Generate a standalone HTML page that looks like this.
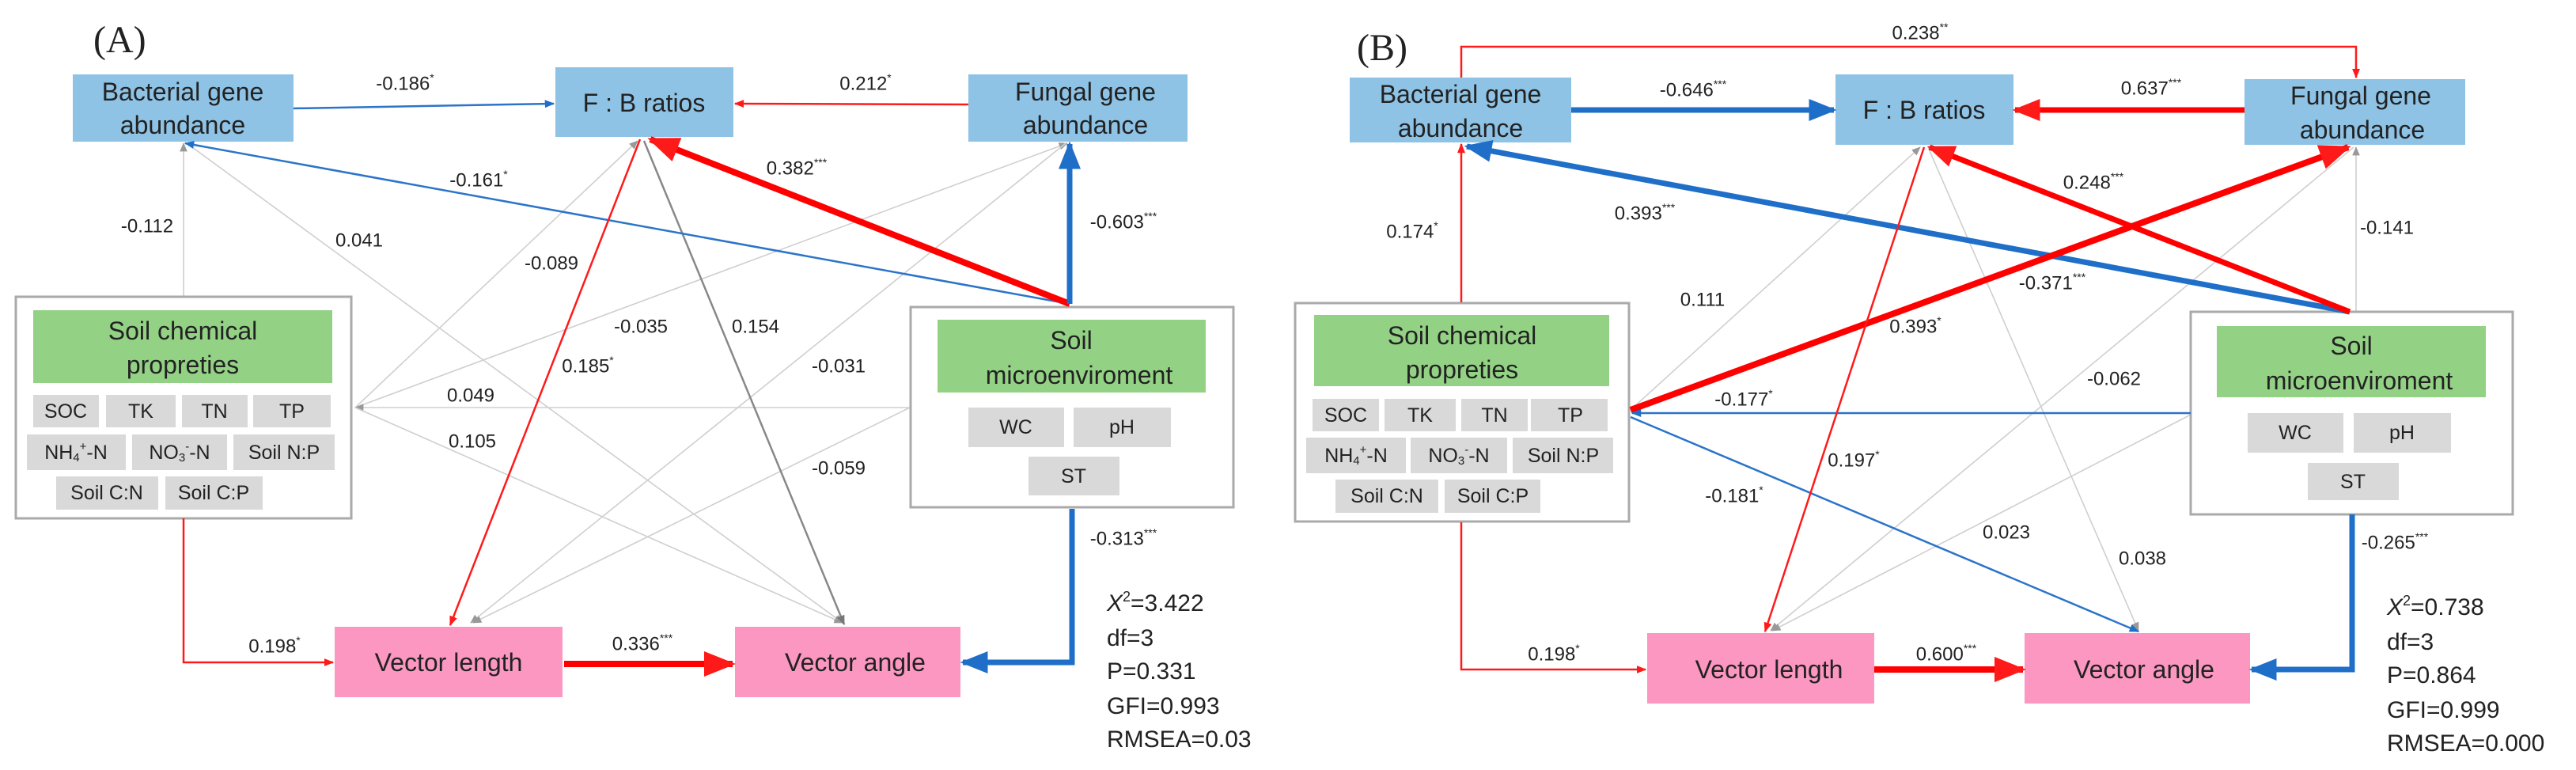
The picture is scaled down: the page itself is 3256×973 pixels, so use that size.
<!DOCTYPE html>
<html><head><meta charset="utf-8"><style>
html,body{margin:0;padding:0;background:#fff;}
svg{display:block;}
text{font-family:"Liberation Sans",sans-serif;fill:#222;}
.lb{font-size:24px;text-anchor:middle;dominant-baseline:central;}
.bx{font-size:32px;text-anchor:middle;dominant-baseline:central;}
.ch{font-size:25px;text-anchor:middle;dominant-baseline:central;}
.st{font-size:30px;}
.pl{font-family:"Liberation Serif",serif;font-size:48px;}
</style></head><body>
<svg width="3256" height="973" viewBox="0 0 3256 973" xmlns="http://www.w3.org/2000/svg">
<defs>
<marker id="ar" markerWidth="5" markerHeight="4" refX="4.5" refY="2" orient="auto" markerUnits="strokeWidth"><path d="M0,0 L5,2 L0,4 Z" fill="#ff1a1a"/></marker>
<marker id="ab" markerWidth="5" markerHeight="4" refX="4.5" refY="2" orient="auto" markerUnits="strokeWidth"><path d="M0,0 L5,2 L0,4 Z" fill="#1f6fc8"/></marker>
<marker id="ag" markerWidth="7" markerHeight="6" refX="6.5" refY="3" orient="auto" markerUnits="strokeWidth"><path d="M0,0 L7,3 L0,6 Z" fill="#999"/></marker>
<marker id="ad" markerWidth="5" markerHeight="4" refX="4.5" refY="2" orient="auto" markerUnits="strokeWidth"><path d="M0,0 L5,2 L0,4 Z" fill="#777"/></marker>
</defs>

<!-- ============ PANEL A ============ -->
<text class="pl" x="118" y="66">(A)</text>

<!-- light gray lines A -->
<g stroke="#cfcfcf" stroke-width="1.6" fill="none" marker-end="url(#ag)">
<line x1="232" y1="374" x2="232" y2="181"/>
<line x1="236" y1="181" x2="1065" y2="787" marker-end="url(#ag)"/>
<line x1="449" y1="515" x2="806" y2="178"/>
<line x1="449" y1="515" x2="1349" y2="181"/>
<line x1="1150" y1="515" x2="449" y2="515"/>
<line x1="449" y1="515" x2="1065" y2="787"/>
<line x1="1347" y1="181" x2="595" y2="787"/>
<line x1="1150" y1="515" x2="598" y2="787"/>
</g>
<line x1="814" y1="178" x2="1067" y2="789" stroke="#888" stroke-width="2.5" marker-end="url(#ad)"/>

<!-- boxes A -->
<rect x="92" y="94" width="279" height="85" fill="#8ec3e6"/>
<text class="bx" x="231" y="116">Bacterial gene</text><text class="bx" x="231" y="158">abundance</text>
<rect x="702" y="85" width="225" height="88" fill="#8ec3e6"/>
<text class="bx" x="814" y="130">F : B ratios</text>
<rect x="1224" y="94" width="277" height="85" fill="#8ec3e6"/>
<text class="bx" x="1372" y="116">Fungal gene</text><text class="bx" x="1372" y="158">abundance</text>

<rect x="20" y="375" width="424" height="280" fill="#fff" stroke="#aaa" stroke-width="3"/>
<rect x="42" y="392" width="378" height="92" fill="#93d285"/>
<text class="bx" x="231" y="418">Soil chemical</text><text class="bx" x="231" y="461">propreties</text>
<g fill="#d9d9d9">
<rect x="42" y="499" width="83" height="41"/><rect x="134" y="499" width="88" height="41"/><rect x="230" y="499" width="83" height="41"/><rect x="320" y="499" width="98" height="41"/>
<rect x="34" y="549" width="125" height="45"/><rect x="167" y="549" width="120" height="45"/><rect x="295" y="549" width="128" height="45"/>
<rect x="71" y="602" width="129" height="42"/><rect x="209" y="602" width="123" height="42"/>
</g>
<text class="ch" x="83" y="520">SOC</text><text class="ch" x="178" y="520">TK</text><text class="ch" x="271" y="520">TN</text><text class="ch" x="369" y="520">TP</text>
<text class="ch" x="96" y="572">NH<tspan font-size="15" dy="6">4</tspan><tspan font-size="15" dy="-14">+</tspan><tspan dy="8">-N</tspan></text>
<text class="ch" x="227" y="572">NO<tspan font-size="15" dy="6">3</tspan><tspan font-size="15" dy="-14">-</tspan><tspan dy="8">-N</tspan></text>
<text class="ch" x="359" y="572">Soil N:P</text>
<text class="ch" x="135" y="623">Soil C:N</text><text class="ch" x="270" y="623">Soil C:P</text>

<rect x="1151" y="388" width="408" height="253" fill="#fff" stroke="#aaa" stroke-width="3"/>
<rect x="1185" y="404" width="339" height="92" fill="#93d285"/>
<text class="bx" x="1354" y="430">Soil</text><text class="bx" x="1364" y="474">microenviroment</text>
<g fill="#d9d9d9"><rect x="1224" y="515" width="121" height="50"/><rect x="1357" y="515" width="123" height="50"/><rect x="1300" y="577" width="115" height="49"/></g>
<text class="ch" x="1284" y="540">WC</text><text class="ch" x="1418" y="540">pH</text><text class="ch" x="1357" y="602">ST</text>

<rect x="423" y="792" width="288" height="89" fill="#fb97c1"/>
<text class="bx" x="567" y="837">Vector length</text>
<rect x="929" y="792" width="285" height="89" fill="#fb97c1"/>
<text class="bx" x="1081" y="837">Vector angle</text>

<!-- colored arrows A -->
<line x1="371" y1="137" x2="700" y2="131" stroke="#2b74c9" stroke-width="2.5" marker-end="url(#ab)"/>
<line x1="1224" y1="132" x2="929" y2="131" stroke="#ff1a1a" stroke-width="2.5" marker-end="url(#ar)"/>
<line x1="1352" y1="384" x2="234" y2="181" stroke="#2b74c9" stroke-width="2.5" marker-end="url(#ab)"/>
<line x1="1352" y1="384" x2="822" y2="176" stroke="#ff0000" stroke-width="8" marker-end="url(#ar)"/>
<line x1="1352" y1="384" x2="1352" y2="182" stroke="#1f6fc8" stroke-width="7" marker-end="url(#ab)"/>
<line x1="809" y1="176" x2="569" y2="790" stroke="#ff1a1a" stroke-width="2.5" marker-end="url(#ar)"/>
<polyline points="232,655 232,837 421,837" fill="none" stroke="#ff1a1a" stroke-width="2.5" marker-end="url(#ar)"/>
<line x1="713" y1="839" x2="926" y2="839" stroke="#ff0000" stroke-width="8" marker-end="url(#ar)"/>
<polyline points="1355,643 1355,837 1217,837" fill="none" stroke="#1f6fc8" stroke-width="7" marker-end="url(#ab)"/>

<!-- labels A -->
<text class="lb" x="512" y="106">-0.186<tspan font-size="14" dy="-8">*</tspan></text>
<text class="lb" x="1094" y="106">0.212<tspan font-size="14" dy="-8">*</tspan></text>
<text class="lb" x="1007" y="213">0.382<tspan font-size="14" dy="-8">***</tspan></text>
<text class="lb" x="605" y="228">-0.161<tspan font-size="14" dy="-8">*</tspan></text>
<text class="lb" x="1420" y="281">-0.603<tspan font-size="14" dy="-8">***</tspan></text>
<text class="lb" x="186" y="286">-0.112</text>
<text class="lb" x="454" y="304">0.041</text>
<text class="lb" x="697" y="333">-0.089</text>
<text class="lb" x="810" y="413">-0.035</text>
<text class="lb" x="955" y="413">0.154</text>
<text class="lb" x="743" y="463">0.185<tspan font-size="14" dy="-8">*</tspan></text>
<text class="lb" x="1060" y="463">-0.031</text>
<text class="lb" x="595" y="500">0.049</text>
<text class="lb" x="597" y="558">0.105</text>
<text class="lb" x="1060" y="592">-0.059</text>
<text class="lb" x="347" y="817">0.198<tspan font-size="14" dy="-8">*</tspan></text>
<text class="lb" x="812" y="814">0.336<tspan font-size="14" dy="-8">***</tspan></text>
<text class="lb" x="1420" y="681">-0.313<tspan font-size="14" dy="-8">***</tspan></text>

<text class="st" x="1399" y="772"><tspan font-style="italic">X</tspan><tspan font-size="18" dy="-12">2</tspan><tspan dy="12">=3.422</tspan></text>
<text class="st" x="1399" y="816">df=3</text>
<text class="st" x="1399" y="858">P=0.331</text>
<text class="st" x="1399" y="902">GFI=0.993</text>
<text class="st" x="1399" y="944">RMSEA=0.03</text>

<!-- ============ PANEL B ============ -->
<text class="pl" x="1715" y="76">(B)</text>

<g stroke="#cfcfcf" stroke-width="1.6" fill="none" marker-end="url(#ag)">
<line x1="2061" y1="518" x2="2427" y2="186"/>
<line x1="2437" y1="186" x2="2703" y2="797"/>
<line x1="2978" y1="394" x2="2978" y2="186"/>
<line x1="2975" y1="186" x2="2238" y2="797"/>
<line x1="2769" y1="524" x2="2240" y2="797"/>
</g>

<rect x="1706" y="98" width="280" height="82" fill="#8ec3e6"/>
<text class="bx" x="1846" y="119">Bacterial gene</text><text class="bx" x="1846" y="162">abundance</text>
<rect x="2320" y="94" width="225" height="89" fill="#8ec3e6"/>
<text class="bx" x="2432" y="139">F : B ratios</text>
<rect x="2837" y="100" width="279" height="83" fill="#8ec3e6"/>
<text class="bx" x="2984" y="121">Fungal gene</text><text class="bx" x="2986" y="164">abundance</text>

<rect x="1637" y="383" width="422" height="276" fill="#fff" stroke="#aaa" stroke-width="3"/>
<rect x="1661" y="398" width="373" height="90" fill="#93d285"/>
<text class="bx" x="1848" y="424">Soil chemical</text><text class="bx" x="1848" y="467">propreties</text>
<g fill="#d9d9d9">
<rect x="1659" y="504" width="84" height="41"/><rect x="1750" y="504" width="90" height="41"/><rect x="1847" y="504" width="84" height="41"/><rect x="1935" y="504" width="97" height="41"/>
<rect x="1651" y="553" width="126" height="45"/><rect x="1783" y="553" width="122" height="45"/><rect x="1912" y="553" width="127" height="45"/>
<rect x="1688" y="606" width="130" height="42"/><rect x="1826" y="606" width="121" height="42"/>
</g>
<text class="ch" x="1701" y="525">SOC</text><text class="ch" x="1795" y="525">TK</text><text class="ch" x="1889" y="525">TN</text><text class="ch" x="1985" y="525">TP</text>
<text class="ch" x="1714" y="576">NH<tspan font-size="15" dy="6">4</tspan><tspan font-size="15" dy="-14">+</tspan><tspan dy="8">-N</tspan></text>
<text class="ch" x="1844" y="576">NO<tspan font-size="15" dy="6">3</tspan><tspan font-size="15" dy="-14">-</tspan><tspan dy="8">-N</tspan></text>
<text class="ch" x="1976" y="576">Soil N:P</text>
<text class="ch" x="1753" y="627">Soil C:N</text><text class="ch" x="1887" y="627">Soil C:P</text>

<rect x="2769" y="394" width="407" height="256" fill="#fff" stroke="#aaa" stroke-width="3"/>
<rect x="2802" y="412" width="340" height="90" fill="#93d285"/>
<text class="bx" x="2972" y="437">Soil</text><text class="bx" x="2982" y="481">microenviroment</text>
<g fill="#d9d9d9"><rect x="2841" y="522" width="121" height="50"/><rect x="2975" y="522" width="123" height="50"/><rect x="2917" y="585" width="115" height="47"/></g>
<text class="ch" x="2901" y="547">WC</text><text class="ch" x="3036" y="547">pH</text><text class="ch" x="2974" y="609">ST</text>

<rect x="2082" y="800" width="287" height="89" fill="#fb97c1"/>
<text class="bx" x="2236" y="846">Vector length</text>
<rect x="2559" y="800" width="285" height="89" fill="#fb97c1"/>
<text class="bx" x="2710" y="846">Vector angle</text>

<polyline points="1847,98 1847,59 2978,59 2978,98" fill="none" stroke="#ff1a1a" stroke-width="2.5" marker-end="url(#ar)"/>
<line x1="1986" y1="139" x2="2318" y2="139" stroke="#1f6fc8" stroke-width="7" marker-end="url(#ab)"/>
<line x1="2837" y1="139" x2="2547" y2="139" stroke="#ff0000" stroke-width="7" marker-end="url(#ar)"/>
<line x1="1847" y1="382" x2="1847" y2="182" stroke="#ff1a1a" stroke-width="2.5" marker-end="url(#ar)"/>
<line x1="2970" y1="394" x2="1854" y2="185" stroke="#1f6fc8" stroke-width="7" marker-end="url(#ab)"/>
<line x1="2970" y1="394" x2="2439" y2="186" stroke="#ff0000" stroke-width="7" marker-end="url(#ar)"/>
<line x1="2061" y1="518" x2="2968" y2="186" stroke="#ff0000" stroke-width="8" marker-end="url(#ar)"/>
<line x1="2769" y1="522" x2="2063" y2="522" stroke="#2b74c9" stroke-width="2.5" marker-end="url(#ab)"/>
<line x1="2061" y1="527" x2="2703" y2="798" stroke="#2b74c9" stroke-width="2.5" marker-end="url(#ab)"/>
<line x1="2432" y1="186" x2="2231" y2="798" stroke="#ff1a1a" stroke-width="2.5" marker-end="url(#ar)"/>
<polyline points="1847,660 1847,846 2080,846" fill="none" stroke="#ff1a1a" stroke-width="2.5" marker-end="url(#ar)"/>
<line x1="2369" y1="846" x2="2557" y2="846" stroke="#ff0000" stroke-width="8" marker-end="url(#ar)"/>
<polyline points="2973,650 2973,846 2846,846" fill="none" stroke="#1f6fc8" stroke-width="7" marker-end="url(#ab)"/>

<text class="lb" x="2427" y="42">0.238<tspan font-size="14" dy="-8">**</tspan></text>
<text class="lb" x="2140" y="114">-0.646<tspan font-size="14" dy="-8">***</tspan></text>
<text class="lb" x="2719" y="112">0.637<tspan font-size="14" dy="-8">***</tspan></text>
<text class="lb" x="1785" y="293">0.174<tspan font-size="14" dy="-8">*</tspan></text>
<text class="lb" x="2079" y="270">0.393<tspan font-size="14" dy="-8">***</tspan></text>
<text class="lb" x="2646" y="231">0.248<tspan font-size="14" dy="-8">***</tspan></text>
<text class="lb" x="3017" y="288">-0.141</text>
<text class="lb" x="2594" y="358">-0.371<tspan font-size="14" dy="-8">***</tspan></text>
<text class="lb" x="2152" y="379">0.111</text>
<text class="lb" x="2421" y="413">0.393<tspan font-size="14" dy="-8">*</tspan></text>
<text class="lb" x="2672" y="479">-0.062</text>
<text class="lb" x="2204" y="505">-0.177<tspan font-size="14" dy="-8">*</tspan></text>
<text class="lb" x="2343" y="582">0.197<tspan font-size="14" dy="-8">*</tspan></text>
<text class="lb" x="2192" y="627">-0.181<tspan font-size="14" dy="-8">*</tspan></text>
<text class="lb" x="2536" y="673">0.023</text>
<text class="lb" x="2708" y="706">0.038</text>
<text class="lb" x="3027" y="686">-0.265<tspan font-size="14" dy="-8">***</tspan></text>
<text class="lb" x="1964" y="827">0.198<tspan font-size="14" dy="-8">*</tspan></text>
<text class="lb" x="2460" y="827">0.600<tspan font-size="14" dy="-8">***</tspan></text>

<text class="st" x="3017" y="777"><tspan font-style="italic">X</tspan><tspan font-size="18" dy="-12">2</tspan><tspan dy="12">=0.738</tspan></text>
<text class="st" x="3017" y="821">df=3</text>
<text class="st" x="3017" y="863">P=0.864</text>
<text class="st" x="3017" y="907">GFI=0.999</text>
<text class="st" x="3017" y="949">RMSEA=0.000</text>
</svg>
</body></html>
